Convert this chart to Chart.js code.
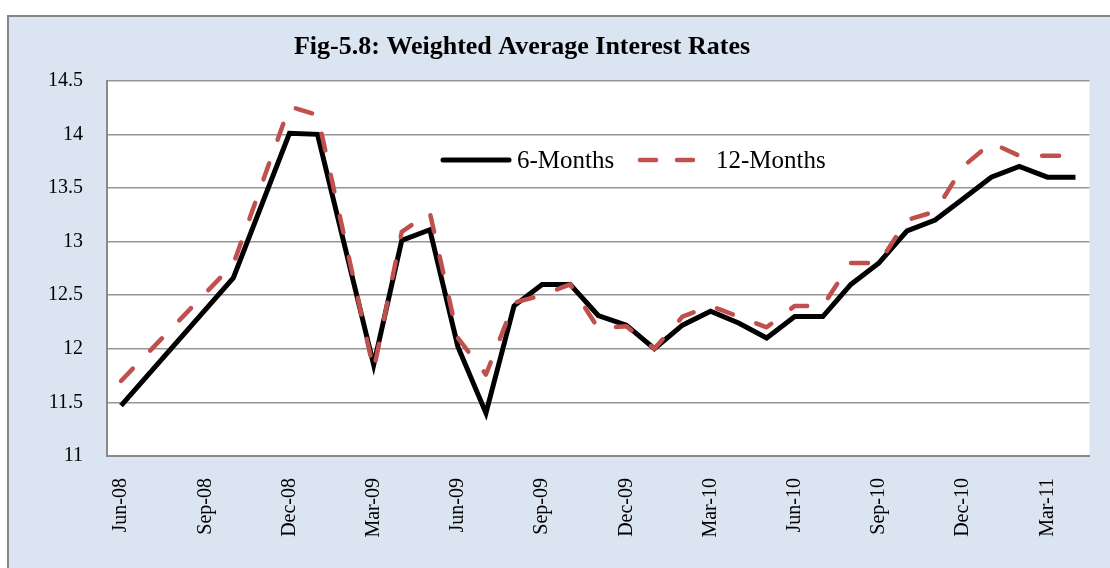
<!DOCTYPE html>
<html><head><meta charset="utf-8">
<script src="https://cdn.jsdelivr.net/npm/chart.js@4.4.1/dist/chart.umd.min.js"></script>
<style>html,body{margin:0;padding:0;background:#fff;overflow:hidden}canvas{display:block}</style>
</head><body>
<canvas id="c" width="1110" height="568"></canvas>
<script>
const chartTitle = 'Fig-5.8: Weighted Average Interest Rates';
const seriesNames = ['6-Months', '12-Months'];
const months = ['Jun-08','Jul-08','Aug-08','Sep-08','Oct-08','Nov-08','Dec-08','Jan-09','Feb-09','Mar-09',
  'Apr-09','May-09','Jun-09','Jul-09','Aug-09','Sep-09','Oct-09','Nov-09','Dec-09','Jan-10',
  'Feb-10','Mar-10','Apr-10','May-10','Jun-10','Jul-10','Aug-10','Sep-10','Oct-10','Nov-10',
  'Dec-10','Jan-11','Feb-11','Mar-11','Apr-11'];
const sixMonths = [11.47, null, null, null, 12.66, null, 14.01, 14.0, null, 11.85,
  13.01, 13.11, 12.02, 11.4, 12.4, 12.6, 12.6, 12.31, 12.22, 12.0,
  12.22, 12.35, 12.24, 12.1, 12.3, 12.3, 12.6, 12.8, 13.1, 13.2,
  13.4, 13.6, 13.7, 13.6, 13.6];
const twelveMonths = [11.7, null, null, null, 12.79, null, 14.26, 14.18, null, 11.8,
  13.09, 13.27, 12.1, 11.76, 12.43, 12.5, 12.6, 12.19, 12.21, 12.0,
  12.3, 12.4, 12.3, 12.2, 12.4, 12.4, 12.8, 12.8, 13.2, 13.28,
  13.7, 13.92, 13.8, 13.8, 13.8];
const yMin = 11, yMax = 14.5, yStep = 0.5;
const tickEvery = 3;

const SERIF = "'Liberation Serif','Times New Roman',serif";

const framePlugin = {
  id: 'frame',
  beforeDraw(chart) {
    const ctx = chart.ctx, a = chart.chartArea;
    ctx.save();
    ctx.fillStyle = '#fff';
    ctx.fillRect(0, 0, chart.width, chart.height);
    ctx.fillStyle = '#DBE5F1';
    ctx.fillRect(7, 15, chart.width, chart.height);
    ctx.strokeStyle = '#868686';
    ctx.lineWidth = 2;
    ctx.beginPath();
    ctx.moveTo(8, chart.height); ctx.lineTo(8, 16); ctx.lineTo(chart.width, 16);
    ctx.stroke();
    ctx.fillStyle = '#fff';
    ctx.fillRect(a.left, a.top, a.right - a.left, a.bottom - a.top);
    ctx.restore();
  },
  afterDraw(chart) {
    const ctx = chart.ctx;
    ctx.save();
    ctx.fillStyle = '#000';
    ctx.font = 'bold 26px ' + SERIF;
    ctx.textAlign = 'center';
    ctx.textBaseline = 'alphabetic';
    ctx.fillText(chartTitle, 522, 54);
    // legend
    const ds = chart.data.datasets;
    const ly = 160;
    ctx.lineCap = 'round';
    ctx.strokeStyle = ds[0].borderColor;
    ctx.lineWidth = ds[0].borderWidth;
    ctx.beginPath(); ctx.moveTo(443, ly); ctx.lineTo(509, ly); ctx.stroke();
    ctx.strokeStyle = ds[1].borderColor;
    ctx.lineWidth = ds[1].borderWidth;
    ctx.beginPath(); ctx.moveTo(640, ly); ctx.lineTo(656, ly); ctx.moveTo(677, ly); ctx.lineTo(693, ly); ctx.stroke();
    ctx.fillStyle = '#000';
    ctx.font = '25px ' + SERIF;
    ctx.textAlign = 'left';
    ctx.fillText(ds[0].label, 517, 168);
    ctx.fillText(ds[1].label, 716, 168);
    ctx.restore();
  }
};

new Chart(document.getElementById('c'), {
  type: 'line',
  data: {
    labels: months,
    datasets: [
      { label: seriesNames[0], data: sixMonths, borderColor: '#000000', borderWidth: 5,
        pointRadius: 0, tension: 0, spanGaps: true, borderJoinStyle: 'miter', borderCapStyle: 'butt', order: 2 },
      { label: seriesNames[1], data: twelveMonths, borderColor: '#C0504D', borderWidth: 4.5,
        borderDash: [17, 25], borderCapStyle: 'round', borderJoinStyle: 'round',
        pointRadius: 0, tension: 0, spanGaps: true, order: 1 }
    ]
  },
  options: {
    responsive: false,
    animation: false,
    devicePixelRatio: 1,
    layout: { padding: { left: 0, top: 80.7, right: 20.5, bottom: 0 } },
    plugins: { legend: { display: false }, title: { display: false }, tooltip: { enabled: false } },
    scales: {
      x: {
        type: 'category',
        offset: true,
        grid: { display: false, drawTicks: false },
        border: { display: true, color: '#8a8a8a', width: 2 },
        ticks: {
          autoSkip: false, minRotation: 90, maxRotation: 90, padding: 22,
          color: '#000', font: { family: SERIF, size: 20 },
          callback: function(v, i) { return i % tickEvery === 0 ? months[i] : ''; }
        },
        afterFit(s) { s.height = 568 - 456; s.paddingLeft = 0; s.paddingRight = 0; }
      },
      y: {
        min: yMin, max: yMax,
        grid: { color: '#959595', lineWidth: 1.6, drawTicks: false },
        border: { display: true, color: '#8a8a8a', width: 2 },
        ticks: { stepSize: yStep, padding: 24, color: '#000', font: { family: SERIF, size: 20 },
          callback: function(v) { return String(Number(v.toFixed(1))); } },
        afterFit(s) { s.width = 107; s.paddingTop = 0; s.paddingBottom = 0; }
      }
    }
  },
  plugins: [framePlugin]
});
</script>
</body></html>
